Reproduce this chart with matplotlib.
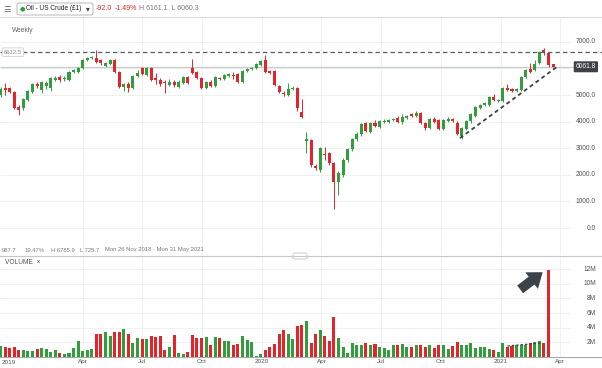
import matplotlib
matplotlib.use("Agg")
import pandas as pd
import matplotlib.pyplot as plt
from matplotlib.lines import Line2D
from matplotlib.patches import FancyBboxPatch

plt.rcParams['font.family'] = ['Liberation Sans', 'DejaVu Sans']

# ------------------------------
# Weekly candles, first week = Mon 26 Nov 2018
# ------------------------------
start_date = pd.Timestamp("2018-11-26")

opens = [5001, 5264, 5264, 5114, 4550, 4512, 4813, 5114, 5414, 5189,
         5339, 5264, 5565, 5678, 5602, 5565, 5866, 5866, 6016, 6317,
         6392, 6392, 6317, 6091, 6166, 6317, 5866, 5302, 5414, 5264,
         5715, 6016, 5753, 6016, 5640, 5565, 5490, 5377, 5490, 5302,
         5452, 5678, 6016, 5866, 5640, 5264, 5490, 5339, 5640, 5602,
         5715, 5753, 5790, 5490, 5903, 5978, 6016, 6129, 6317, 5903,
         5903, 5339, 5076, 5001, 5226, 5264, 4362, 3271, 3309, 2331,
         2181, 2782, 2820, 2444, 1730, 1993, 2557, 2970, 3346, 3534,
         3948, 3610, 3948, 3798, 4004, 3986, 4061, 4136, 3986, 4136,
         4286, 4211, 4324, 3948, 3760, 4098, 4061, 3722, 4023, 4098,
         3948, 3459, 3722, 4023, 4211, 4512, 4625, 4625, 4926, 4775,
         4775, 5264, 5226, 5151, 5189, 5678, 5978, 5941, 6204, 6693,
         6580, 6150]
highs = [5302, 5452, 5302, 5151, 4625, 4888, 5189, 5452, 5490, 5527,
         5527, 5678, 5715, 5753, 5715, 5903, 5978, 6054, 6354, 6430,
         6467, 6693, 6354, 6242, 6354, 6354, 5903, 5452, 5490, 5753,
         5941, 6054, 6054, 6054, 5828, 5640, 5565, 5602, 5565, 5565,
         5715, 5715, 6354, 5903, 5678, 5527, 5565, 5715, 5678, 5790,
         5828, 5866, 5828, 5941, 6016, 6054, 6204, 6317, 6505, 5941,
         5941, 5377, 5151, 5452, 5339, 5302, 4850, 3610, 3346, 2406,
         3045, 3045, 2858, 2482, 2143, 2632, 3008, 3384, 3610, 3948,
         3986, 3986, 4061, 4061, 4098, 4098, 4136, 4211, 4286, 4249,
         4324, 4399, 4362, 3986, 4136, 4174, 4098, 4098, 4174, 4136,
         4023, 3798, 4061, 4324, 4587, 4662, 4738, 4963, 5038, 4850,
         5302, 5414, 5264, 5264, 5715, 5978, 6204, 6317, 6655, 6785.9,
         6618, 6161.1]
lows = [4926, 5001, 5076, 4475, 4249, 4437, 4775, 5076, 5264, 5076,
        5226, 5151, 5527, 5490, 5527, 5527, 5828, 5828, 5978, 6279,
        6354, 6204, 6129, 6054, 6129, 5828, 5264, 5151, 5114, 5226,
        5678, 5753, 5715, 5527, 5414, 5339, 5076, 5339, 5302, 5264,
        5414, 5414, 5790, 5602, 5226, 5226, 5302, 5302, 5565, 5565,
        5678, 5602, 5452, 5452, 5866, 5941, 5978, 6091, 5828, 5790,
        5339, 5076, 4963, 4963, 5189, 4399, 4136, 2820, 2294, 2181,
        2106, 2557, 2369, 725.7, 1241, 1918, 2482, 2895, 3271, 3459,
        3610, 3572, 3798, 3760, 3948, 3948, 4023, 3948, 3910, 4098,
        4174, 4174, 3910, 3685, 3722, 3948, 3685, 3685, 3986, 3986,
        3497, 3346, 3685, 3948, 4174, 4475, 4587, 4587, 4775, 4738,
        4738, 5151, 5114, 5114, 5151, 5640, 5828, 5903, 6166, 6505,
        6054, 6060.3]
closes = [5226, 5189, 5114, 4512, 4437, 4850, 5151, 5414, 5339, 5490,
          5452, 5640, 5640, 5565, 5640, 5866, 5941, 6016, 6317, 6392,
          6430, 6242, 6204, 6204, 6317, 5866, 5302, 5414, 5264, 5715,
          5828, 5790, 6016, 5565, 5565, 5414, 5452, 5490, 5377, 5490,
          5678, 5452, 5828, 5640, 5264, 5490, 5339, 5678, 5602, 5753,
          5790, 5734, 5490, 5903, 5978, 6016, 6166, 6279, 5866, 5828,
          5377, 5114, 5038, 5226, 5264, 4512, 4174, 3346, 2369, 2256,
          3008, 2745, 2444, 1730, 2068, 2557, 2970, 3346, 3534, 3910,
          3647, 3948, 3835, 4023, 4042, 4061, 4098, 3986, 4174, 4211,
          4211, 4324, 3948, 3760, 4098, 3986, 3722, 4061, 4098, 4023,
          3534, 3760, 4023, 4286, 4550, 4625, 4700, 4926, 4813, 4813,
          5264, 5189, 5151, 5226, 5678, 5941, 5866, 6166, 6618, 6580,
          6129, 6061.8]
volume_m = [1.5, 1.35, 1.25, 1.35, 0.9, 1.0, 0.8, 0.8, 1.1, 1.25,
            1.1, 0.65, 0.95, 0.5, 0.35, 0.55, 1.25, 2.15, 0.8, 1.0,
            1.1, 3.15, 3.15, 3.45, 2.8, 3.45, 3.45, 3.85, 3.15, 1.95,
            2.6, 2.5, 2.4, 2.85, 2.75, 2.85, 0.9, 1.4, 3.0, 0.5,
            0.35, 0.7, 2.95, 2.65, 2.6, 2.75, 1.7, 2.7, 2.6, 2.15,
            2.15, 1.6, 1.8, 2.85, 2.3, 2.0, 0.2, 0.35, 0.95, 1.35,
            1.8, 3.15, 3.65, 3.15, 2.5, 4.2, 4.3, 4.9, 1.85, 3.2,
            3.75, 2.93, 2.15, 5.5, 2.6, 1.35, 0.5, 1.95, 1.6, 1.7,
            1.95, 1.6, 1.8, 1.35, 1.25, 0.93, 1.6, 1.6, 1.8, 1.3,
            1.4, 1.6, 1.65, 1.35, 1.6, 1.25, 1.65, 1.65, 1.1, 1.45,
            2.0, 1.6, 1.7, 1.85, 1.25, 1.35, 1.4, 1.1, 0.93, 0.65,
            1.95, 1.35, 1.45, 1.6, 1.65, 1.6, 1.85, 2.0, 2.15, 1.85,
            11.9, 0.0]

tick_dates = ["2019-04-01", "2019-07-01", "2019-10-01", "2020-01-01", "2020-04-01",
              "2020-07-01", "2020-10-01", "2021-01-01", "2021-04-01"]
tick_labels = ["Apr", "Jul", "Oct", "2020", "Apr", "Jul", "Oct", "2021", "Apr"]

price_ticks = [7000, 5000, 4000, 3000, 2000, 1000, 0]
grid_prices = [0, 1000, 2000, 3000, 4000, 5000, 6000, 7000]
volume_ticks = [2, 4, 6, 8, 10, 12]

resistance = 6612.5
last_price = 6061.8
trend_x = [100.6, 122.1]
trend_y = [3380, 6090]
vol_trend_x = [111.0, 118.3]
vol_trend_y = [1.5, 1.9]

# ------------------------------
# Layout (pixels of a 602x368 image)
# ------------------------------
W, H = 602, 368
PX_WEEK = 4.567
X0 = 0.5
UP, DOWN = '#2f9e3b', '#e3242b'
GRID = '#eeeeee'
TXT = '#555555'


def px_x(px):
    return (px - X0) / PX_WEEK


def fx(px):
    return px / W


def fy(py):
    return 1 - py / H


x = list(range(len(closes)))
colors = [UP if c >= o else DOWN for o, c in zip(opens, closes)]
tick_pos = [(pd.Timestamp(d) - start_date).days / 7 for d in tick_dates]
xlim = (px_x(0), px_x(W))

fig = plt.figure(figsize=(W / 100, H / 100), dpi=100)
ax = fig.add_axes([0, fy(255), 1, (255 - 17) / H])
axv = fig.add_axes([0, fy(357), 1, (357 - 257) / H])

for a in (ax, axv):
    a.set_xlim(*xlim)
    for s in a.spines.values():
        s.set_visible(False)
    a.set_yticks([])
    for tp in tick_pos:
        a.axvline(tp, color=GRID, lw=0.6, zorder=0)

# ------------------------------
# Price panel
# ------------------------------
ax.set_ylim(-(255 - 228) * 37.6, (228 - 17) * 37.6)
ax.set_xticks([])
ax.hlines(grid_prices, xlim[0], px_x(570), color=GRID, lw=0.6, zorder=0)

bottoms = [min(o, c) for o, c in zip(opens, closes)]
heights = [max(abs(c - o), 30) for o, c in zip(opens, closes)]
ax.vlines(x, lows, highs, colors=colors, lw=0.7, zorder=2)
ax.bar(x, heights, bottom=bottoms, width=0.66, color=colors, zorder=3)

ax.axhline(resistance, color='#565b66', lw=0.9, dashes=(3.5, 2.5), zorder=4)
ax.hlines(last_price, xlim[0], px_x(574), color='#c5cdcd', lw=0.9, zorder=1)
ax.plot(trend_x, trend_y, color='#3d4148', lw=1.3, dashes=(2.2, 1.8), zorder=5)

for v in price_ticks:
    ax.text(px_x(596), v, f"{v:.1f}", ha='right', va='center', fontsize=4.8, color=TXT)
ax.text(px_x(596), last_price, f"{last_price:.1f}", ha='right', va='center', fontsize=4.8,
        color='white', zorder=6,
        bbox=dict(boxstyle='round,pad=0.3,rounding_size=0.15', fc='#3d4148', ec='none'))
ax.text(px_x(4), resistance, f"{resistance:.1f}", ha='left', va='center', fontsize=4.2,
        color='#8a8a8a', zorder=6,
        bbox=dict(boxstyle='round,pad=0.3,rounding_size=0.2', fc='white', ec='#cfcfcf', lw=0.6))

# ------------------------------
# Volume panel
# ------------------------------
axv.set_ylim(0, (357 - 257) / 7.33)
axv.hlines(volume_ticks, xlim[0], px_x(570), color=GRID, lw=0.6, zorder=0)
axv.bar(x, volume_m, width=0.66, color=colors, zorder=3)
axv.plot(vol_trend_x, vol_trend_y, color='#3d4148', lw=0.9, dashes=(2, 1.5), zorder=4)
for v in volume_ticks:
    axv.text(px_x(596), v, f"{v}M", ha='right', va='center', fontsize=4.8, color=TXT)

axv.spines['bottom'].set_visible(True)
axv.spines['bottom'].set_color('#a9a9a9')
axv.spines['bottom'].set_linewidth(0.8)
axv.set_xticks(tick_pos)
axv.set_xticklabels(tick_labels)
axv.tick_params(axis='x', length=0, pad=1.2, labelsize=4.6, labelcolor=TXT)
fig.text(fx(8.5), fy(362.5), "2019", ha='center', va='center', fontsize=4.6, color=TXT)

axv.annotate('', xy=(119.2, 11.8), xytext=(113.3, 9.0),
             arrowprops=dict(arrowstyle='simple,head_length=1.0,head_width=1.5,tail_width=0.7',
                             color='#3d4148', lw=0))

# ------------------------------
# Header, labels and separators
# ------------------------------
fig.add_artist(Line2D([0, 1], [fy(16.5), fy(16.5)], color='#dddddd', lw=0.8))
fig.add_artist(Line2D([0, 1], [fy(256), fy(256)], color='#c8c8c8', lw=0.8))
fig.add_artist(FancyBboxPatch((fx(293), fy(259)), fx(14), 6 / H,
                              boxstyle='round,pad=0,rounding_size=0.004',
                              fc='white', ec='#c0c0c0', lw=0.6))
fig.add_artist(FancyBboxPatch((fx(17), fy(15)), fx(76), 12 / H,
                              boxstyle='round,pad=0,rounding_size=0.004',
                              fc='white', ec='#b8b8b8', lw=0.7))

fig.text(fx(3), fy(9), "\u2630", fontsize=6, color='#666666', va='center',
         family=['DejaVu Sans'])
fig.text(fx(20), fy(9), "\u25cf", fontsize=4.5, color=UP, va='center', family=['DejaVu Sans'])
fig.text(fx(26.5), fy(9), "Oil - US Crude (£1)", fontsize=4.7, color='#222222', va='center')
fig.text(fx(86), fy(9), "\u25be", fontsize=5.5, color='#444444', va='center', family=['DejaVu Sans'])
fig.text(fx(96), fy(9), "-92.0", fontsize=5.0, color=DOWN, va='center')
fig.text(fx(115), fy(9), "-1.49%", fontsize=5.0, color=DOWN, va='center')
fig.text(fx(139), fy(9), "H 6161.1  L 6060.3", fontsize=5.0, color='#777777', va='center')

fig.text(fx(12), fy(30), "Weekly", fontsize=4.8, color='#666666', va='center')

info = [(2, "987.7"), (25, "19.47%"), (51, "H 6785.9"), (80, "L 725.7"),
        (105, "Mon 26 Nov 2018 - Mon 31 May 2021")]
for px, s in info:
    fig.text(fx(px), fy(250), s, fontsize=4.2, color='#7a7a7a', va='center')

fig.text(fx(5), fy(263), "VOLUME  \u00d7", fontsize=4.8, color=TXT, va='center')

fig.savefig("out.png", dpi=100)
plt.close(fig)
